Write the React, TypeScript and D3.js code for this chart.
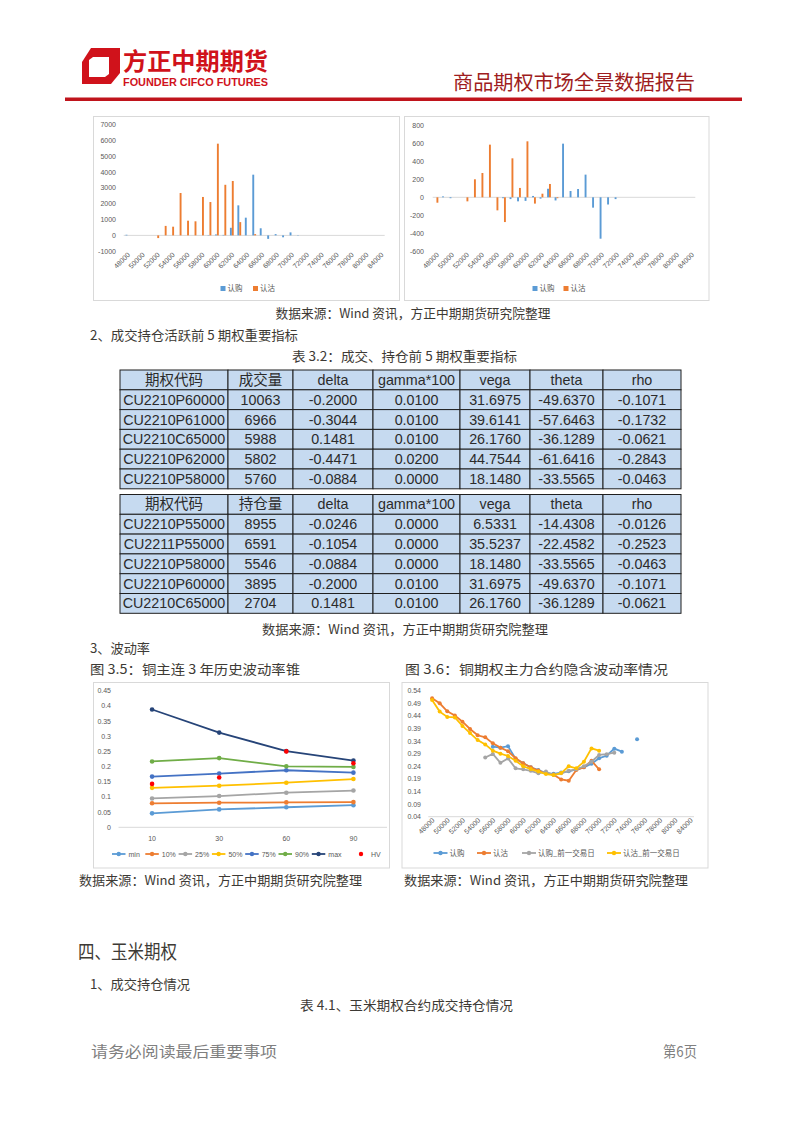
import React from 'react';
import * as d3 from 'd3';

const TEXT = '#3d3a35';
const AXIS = '#595959';
const CJK = "'Noto Sans CJK SC', sans-serif";
const LAT = "'Liberation Sans', Arial, sans-serif";

// ---------- data ----------
const strikes = [48000, 49000, 50000, 51000, 52000, 53000, 54000, 55000, 56000, 57000, 58000, 59000, 60000, 61000, 62000, 63000, 64000, 65000, 66000, 67000, 68000, 69000, 70000, 71000, 72000, 73000, 74000, 75000, 76000, 77000, 78000, 79000, 80000, 82000, 84000];

// chart 1 (left): 认购 / 认沽
const volCall = [40, 0, 0, 0, 0, 0, 0, 0, 0, 0, 0, 20, 60, 30, 480, 1900, 1120, 3840, 450, -220, 80, -120, 190, -20, 0, 0, 0, 0, 0, 0, 0, 0, 0, 0, 0];
const volPut = [0, 0, 0, 0, -170, 600, 550, 2680, 930, 890, 2430, 2110, 5800, 3200, 3440, 840, 0, 80, 0, 0, 0, 0, 0, 0, 0, 0, 0, 0, 0, 0, 0, 0, 0, 0, 0];
const volTicks = [-1000, 0, 1000, 2000, 3000, 4000, 5000, 6000, 7000];

// chart 2 (right): 认购 / 认沽 change
const chgCall = [0, 10, -10, 0, 0, 0, 0, 0, 0, -10, -20, -45, -40, 15, -15, 95, -35, 596, 70, 92, 252, -115, -460, -80, -20, 0, 0, 0, 0, 0, 0, 0, 0, 0, 0];
const chgPut = [-60, 0, 0, 0, -45, 200, 270, 585, -145, -275, 433, 104, 622, -70, 40, 148, -10, 0, 0, 0, 0, 0, 0, 0, 0, 0, 0, 0, 0, 0, 0, 0, 0, 0, 0];
const chgTicks = [-600, -400, -200, 0, 200, 400, 600, 800];

// tables
const tblHeadA = ['期权代码', '成交量', 'delta', 'gamma*100', 'vega', 'theta', 'rho'];
const tblHeadB = ['期权代码', '持仓量', 'delta', 'gamma*100', 'vega', 'theta', 'rho'];
const tblCodesA = ['CU2210P60000', 'CU2210P61000', 'CU2210C65000', 'CU2210P62000', 'CU2210P58000'];
const tblVolA = ['10063', '6966', '5988', '5802', '5760'];
const tblDeltaA = ['-0.2000', '-0.3044', '0.1481', '-0.4471', '-0.0884'];
const tblGammaA = ['0.0100', '0.0100', '0.0100', '0.0200', '0.0000'];
const tblVegaA = ['31.6975', '39.6141', '26.1760', '44.7544', '18.1480'];
const tblThetaA = ['-49.6370', '-57.6463', '-36.1289', '-61.6416', '-33.5565'];
const tblRhoA = ['-0.1071', '-0.1732', '-0.0621', '-0.2843', '-0.0463'];
const tblCodesB = ['CU2210P55000', 'CU2211P55000', 'CU2210P58000', 'CU2210P60000', 'CU2210C65000'];
const tblOiB = ['8955', '6591', '5546', '3895', '2704'];
const tblDeltaB = ['-0.0246', '-0.1054', '-0.0884', '-0.2000', '0.1481'];
const tblGammaB = ['0.0000', '0.0000', '0.0000', '0.0100', '0.0100'];
const tblVegaB = ['6.5331', '35.5237', '18.1480', '31.6975', '26.1760'];
const tblThetaB = ['-14.4308', '-22.4582', '-33.5565', '-49.6370', '-36.1289'];
const tblRhoB = ['-0.0126', '-0.2523', '-0.0463', '-0.1071', '-0.0621'];

// chart 3.5 vol cone
const coneWindows = ['10', '30', '60', '90'];
const coneMin = [0.046, 0.059, 0.066, 0.073];
const cone10 = [0.079, 0.081, 0.082, 0.083];
const cone25 = [0.095, 0.103, 0.114, 0.121];
const cone50 = [0.130, 0.137, 0.147, 0.159];
const cone75 = [0.167, 0.177, 0.188, 0.180];
const cone90 = [0.217, 0.228, 0.201, 0.199];
const coneMax = [0.388, 0.312, 0.251, 0.220];
const coneHV = [0.143, 0.164, 0.250, 0.211];
const coneTicks = [0, 0.05, 0.1, 0.15, 0.2, 0.25, 0.3, 0.35, 0.4, 0.45];
const coneTickLabels = ['0', '0.05', '0.1', '0.15', '0.2', '0.25', '0.3', '0.35', '0.4', '0.45'];

// chart 3.6 implied vol
const N = null;
const ivCall = [N, N, N, N, N, N, N, N, 0.318, 0.314, 0.320, 0.270, 0.252, 0.236, 0.225, 0.213, 0.210, 0.215, 0.220, 0.228, 0.236, 0.250, 0.272, 0.282, 0.310, 0.298, N, 0.347, N, N, N, N, N, N, N];
const ivPut = [0.510, 0.490, 0.458, 0.442, 0.417, 0.388, 0.363, 0.355, 0.331, 0.314, 0.300, 0.272, 0.252, 0.236, 0.223, 0.212, 0.207, 0.188, 0.183, 0.225, 0.236, 0.262, 0.228, N, N, N, N, N, N, N, N, N, N, N, N];
const ivCallPrev = [N, N, N, N, N, N, N, 0.275, 0.289, 0.254, 0.271, 0.232, 0.228, 0.222, 0.212, 0.219, 0.205, 0.212, 0.222, 0.228, 0.240, 0.258, 0.285, 0.288, 0.294, N, N, N, N, N, N, N, N, N, N];
const ivPutPrev = [0.503, 0.457, 0.436, 0.434, 0.400, 0.372, 0.344, 0.327, 0.302, 0.290, 0.281, 0.262, 0.240, 0.229, 0.219, 0.209, 0.205, 0.213, 0.240, 0.232, 0.258, 0.311, 0.302, N, N, N, N, N, N, N, N, N, N, N, N];
const ivTicks = [0.04, 0.09, 0.14, 0.19, 0.24, 0.29, 0.34, 0.39, 0.44, 0.49, 0.54];

const C_BLUE = '#5B9BD5';
const C_ORANGE = '#ED7D31';
const C_GRAY = '#A5A5A5';
const C_GOLD = '#FFC000';
const C_BLUE2 = '#4472C4';
const C_GREEN = '#70AD47';
const C_NAVY = '#264478';
const C_RED = '#FF0000';

// ---------- helpers ----------
function T({ x, y, w, size = 13, anchor = 'start', fill = TEXT, family = CJK, weight = 'normal', children }: any) {
  return (
    <text x={x} y={y} fontSize={size} fill={fill} fontFamily={family} textAnchor={anchor} fontWeight={weight}
      textLength={w} lengthAdjust={w ? 'spacingAndGlyphs' : undefined}>{children}</text>
  );
}

function Frame({ x, y, w, h }: any) {
  return <rect x={x} y={y} width={w} height={h} fill="#fff" stroke="#D9D9D9" strokeWidth={1} />;
}

function XLabels({ x, y0, every = 2 }: any) {
  return (
    <g>
      {strikes.map((s, i) => (i % every === 0 ? (
        <text key={s} transform={`translate(${x(String(s))! + x.bandwidth() / 2 + 3},${y0}) rotate(-45)`}
          fontSize={7} fill={AXIS} fontFamily={LAT} textAnchor="end">{s}</text>
      ) : null))}
    </g>
  );
}

function BarPanel({ box, x0, x1, yTop, yBot, domain, ticks, labelX, call, put, legX1, legX2, legY }: any) {
  const x = d3.scaleBand().domain(strikes.map(String)).range([x0, x1]);
  const y = d3.scaleLinear().domain(domain).range([yBot, yTop]);
  const bw = 1.9;
  const y0 = y(0);
  return (
    <g>
      <Frame {...box} />
      {ticks.map((t: number) => (
        <text key={t} x={labelX} y={y(t) + 2.5} fontSize={7} fill={AXIS} fontFamily={LAT} textAnchor="end">{t}</text>
      ))}
      <line x1={x0} x2={x1} y1={y0} y2={y0} stroke="#D9D9D9" strokeWidth={1} />
      {strikes.map((s, i) => {
        const cx = x(String(s))! + x.bandwidth() / 2;
        const c = call[i], p = put[i];
        return (
          <g key={s}>
            {c !== 0 && <rect x={cx - bw} width={bw} y={Math.min(y(c), y0)} height={Math.abs(y(c) - y0)} fill={C_BLUE} />}
            {p !== 0 && <rect x={cx} width={bw} y={Math.min(y(p), y0)} height={Math.abs(y(p) - y0)} fill={C_ORANGE} />}
          </g>
        );
      })}
      <XLabels x={x} y0={yBot + 4} />
      <rect x={legX1} y={legY - 2.5} width={5} height={5} fill={C_BLUE} />
      <text x={legX1 + 7} y={legY + 2.5} fontSize={7.5} fill={AXIS} fontFamily={CJK}>认购</text>
      <rect x={legX2} y={legY - 2.5} width={5} height={5} fill={C_ORANGE} />
      <text x={legX2 + 7} y={legY + 2.5} fontSize={7.5} fill={AXIS} fontFamily={CJK}>认沽</text>
    </g>
  );
}

function Table({ top, rowH, head, cols }: any) {
  const xs = [120, 228, 293, 373, 460, 530, 603, 681];
  const rows = [head, ...cols[0].map((_: any, r: number) => cols.map((c: string[]) => c[r]))];
  return (
    <g>
      {rows.map((row: string[], r: number) => row.map((cell, c) => {
        const x = xs[c], w = xs[c + 1] - xs[c], y = top + r * rowH;
        const isCjk = /[\u4e00-\u9fff]/.test(cell);
        return (
          <g key={`${r}-${c}`}>
            <rect x={x} y={y} width={w} height={rowH} fill="#C6DAF0" stroke="#1f1f1f" strokeWidth={1} />
            <text x={x + w / 2} y={y + rowH / 2 + 5} fontSize={isCjk ? 14.5 : 14.3} fill="#2b2b2b"
              fontFamily={isCjk ? CJK : LAT} textAnchor="middle">{cell}</text>
          </g>
        );
      }))}
    </g>
  );
}

function ConeChart() {
  const x = d3.scaleBand().domain(coneWindows).range([118.5, 387]);
  const y = d3.scaleLinear().domain([0, 0.45]).range([827.3, 690.7]);
  const series = [
    { name: 'min', v: coneMin, c: C_BLUE },
    { name: '10%', v: cone10, c: C_ORANGE },
    { name: '25%', v: cone25, c: C_GRAY },
    { name: '50%', v: cone50, c: C_GOLD },
    { name: '75%', v: cone75, c: C_BLUE2 },
    { name: '90%', v: cone90, c: C_GREEN },
    { name: 'max', v: coneMax, c: C_NAVY },
  ];
  const cx = (w: string) => x(w)! + x.bandwidth() / 2;
  const line = d3.line<number>().x((_, i) => cx(coneWindows[i])).y(d => y(d));
  return (
    <g>
      <Frame x={93.5} y={682.5} w={296} h={185.5} />
      {coneTicks.map((t, i) => (
        <text key={t} x={111} y={y(t) + 2.5} fontSize={7} fill={AXIS} fontFamily={LAT} textAnchor="end">{coneTickLabels[i]}</text>
      ))}
      <line x1={118.5} x2={387} y1={y(0)} y2={y(0)} stroke="#D9D9D9" />
      {coneWindows.map(w => (
        <text key={w} x={cx(w)} y={y(0) + 14} fontSize={7} fill={AXIS} fontFamily={LAT} textAnchor="middle">{w}</text>
      ))}
      {series.map(s => (
        <g key={s.name}>
          <path d={line(s.v)!} fill="none" stroke={s.c} strokeWidth={1.8} />
          {s.v.map((d, i) => <circle key={i} cx={cx(coneWindows[i])} cy={y(d)} r={2.3} fill={s.c} />)}
        </g>
      ))}
      {coneHV.map((d, i) => <circle key={i} cx={cx(coneWindows[i])} cy={y(d)} r={2.3} fill={C_RED} />)}
      {series.map((s, i) => {
        const lx = 112 + i * 33.3;
        return (
          <g key={s.name}>
            <line x1={lx} x2={lx + 13.5} y1={854} y2={854} stroke={s.c} strokeWidth={1.8} />
            <circle cx={lx + 6.75} cy={854} r={2.2} fill={s.c} />
            <text x={lx + 16.5} y={856.5} fontSize={7} fill={AXIS} fontFamily={LAT}>{s.name}</text>
          </g>
        );
      })}
      <circle cx={361} cy={854} r={2.2} fill={C_RED} />
      <text x={371} y={856.5} fontSize={7} fill={AXIS} fontFamily={LAT}>HV</text>
    </g>
  );
}

function IVChart() {
  const x = d3.scaleBand().domain(strikes.map(String)).range([428.3, 694]);
  const y = d3.scaleLinear().domain([0.04, 0.54]).range([816.7, 690.7]);
  const cx = (i: number) => x(String(strikes[i]))! + x.bandwidth() / 2;
  const line = d3.line<number | null>().defined(d => d != null).x((_, i) => cx(i)).y(d => y(d as number));
  const series = [
    { name: '认购', v: ivCall, c: C_BLUE, lx: 433.5 },
    { name: '认沽', v: ivPut, c: C_ORANGE, lx: 477 },
    { name: '认购_前一交易日', v: ivCallPrev, c: C_GRAY, lx: 522 },
    { name: '认沽_前一交易日', v: ivPutPrev, c: C_GOLD, lx: 607 },
  ];
  return (
    <g>
      <Frame x={402} y={682.5} w={306} h={185.5} />
      {ivTicks.map(t => (
        <text key={t} x={421} y={y(t) + 2.5} fontSize={7} fill={AXIS} fontFamily={LAT} textAnchor="end">{t.toFixed(2)}</text>
      ))}
      <line x1={428.3} x2={694} y1={y(0.04)} y2={y(0.04)} stroke="#D9D9D9" />
      <XLabels x={x} y0={y(0.04) + 4} />
      {series.map(s => (
        <g key={s.name}>
          <path d={line(s.v)!} fill="none" stroke={s.c} strokeWidth={1.8} />
          {s.v.map((d, i) => (d == null ? null : <circle key={i} cx={cx(i)} cy={y(d)} r={2} fill={s.c} />))}
        </g>
      ))}
      {series.map(s => (
        <g key={s.name}>
          <line x1={s.lx} x2={s.lx + 14} y1={853} y2={853} stroke={s.c} strokeWidth={1.8} />
          <circle cx={s.lx + 7} cy={853} r={2.2} fill={s.c} />
          <text x={s.lx + 16} y={855.8} fontSize={7.5} fill={AXIS} fontFamily={CJK}>{s.name}</text>
        </g>
      ))}
    </g>
  );
}

export default function App() {
  const src = '数据来源：Wind 资讯，方正中期期货研究院整理';
  return (
    <svg width={802} height={1133} style={{ position: 'absolute', left: 0, top: 0, background: '#fff' }}>
      <rect x={0} y={0} width={802} height={1133} fill="#fff" />
      {/* header logo */}
      <polygon points="82,62 91,48 120,48 120,73 111,84 82,84" fill="#D0121B" />
      <polygon points="89,60 93,57 109,57 109,74 105,77 89,77" fill="#fff" />
      <T x={123} y={70} w={145} size={24} fill="#D0121B" weight="bold">方正中期期货</T>
      <T x={123} y={85.5} w={145} size={10.5} fill="#D0121B" weight="bold" family={LAT}>FOUNDER CIFCO FUTURES</T>
      <T x={453} y={90} w={242} size={20} fill="#9E1C20">商品期权市场全景数据报告</T>
      <rect x={65} y={97.5} width={677} height={3.5} fill="#C0141C" />

      {/* top charts */}
      <BarPanel box={{ x: 93.5, y: 116.5, w: 306, h: 184 }} x0={123.7} x1={384.7} yTop={124.7} yBot={251.2}
        domain={[-1000, 7000]} ticks={volTicks} labelX={116} call={volCall} put={volPut}
        legX1={220.5} legX2={253} legY={288.5} />
      <BarPanel box={{ x: 404.5, y: 116.5, w: 304.5, h: 184 }} x0={432.7} x1={695.3} yTop={125.3} yBot={251.3}
        domain={[-600, 800]} ticks={chgTicks} labelX={424} call={chgCall} put={chgPut}
        legX1={532.5} legX2={563.5} legY={288.5} />

      <T x={413} y={318} w={275} anchor="middle">{src}</T>
      <T x={90} y={340} w={208}>2、成交持仓活跃前 5 期权重要指标</T>
      <T x={292} y={361} w={225}>表 3.2：成交、持仓前 5 期权重要指标</T>

      <Table top={370} rowH={19.8} head={tblHeadA}
        cols={[tblCodesA, tblVolA, tblDeltaA, tblGammaA, tblVegaA, tblThetaA, tblRhoA]} />
      <Table top={494.5} rowH={19.8} head={tblHeadB}
        cols={[tblCodesB, tblOiB, tblDeltaB, tblGammaB, tblVegaB, tblThetaB, tblRhoB]} />

      <T x={405} y={634} w={286} anchor="middle">{src}</T>
      <T x={90} y={653} w={60}>3、波动率</T>
      <T x={90} y={674} w={210}>图 3.5：铜主连 3 年历史波动率锥</T>
      <T x={405} y={674} w={263}>图 3.6：铜期权主力合约隐含波动率情况</T>

      <ConeChart />
      <IVChart />

      <T x={79} y={885} w={283}>{src}</T>
      <T x={404} y={885} w={284}>{src}</T>

      <T x={78} y={959} w={99} size={19}>四、玉米期权</T>
      <T x={90} y={989} w={100}>1、成交持仓情况</T>
      <T x={300} y={1010} w={213}>表 4.1、玉米期权合约成交持仓情况</T>

      <T x={91} y={1057} w={186} size={15} fill="#808080">请务必阅读最后重要事项</T>
      <T x={663} y={1057} w={34} size={15} fill="#808080">第6页</T>
    </svg>
  );
}
